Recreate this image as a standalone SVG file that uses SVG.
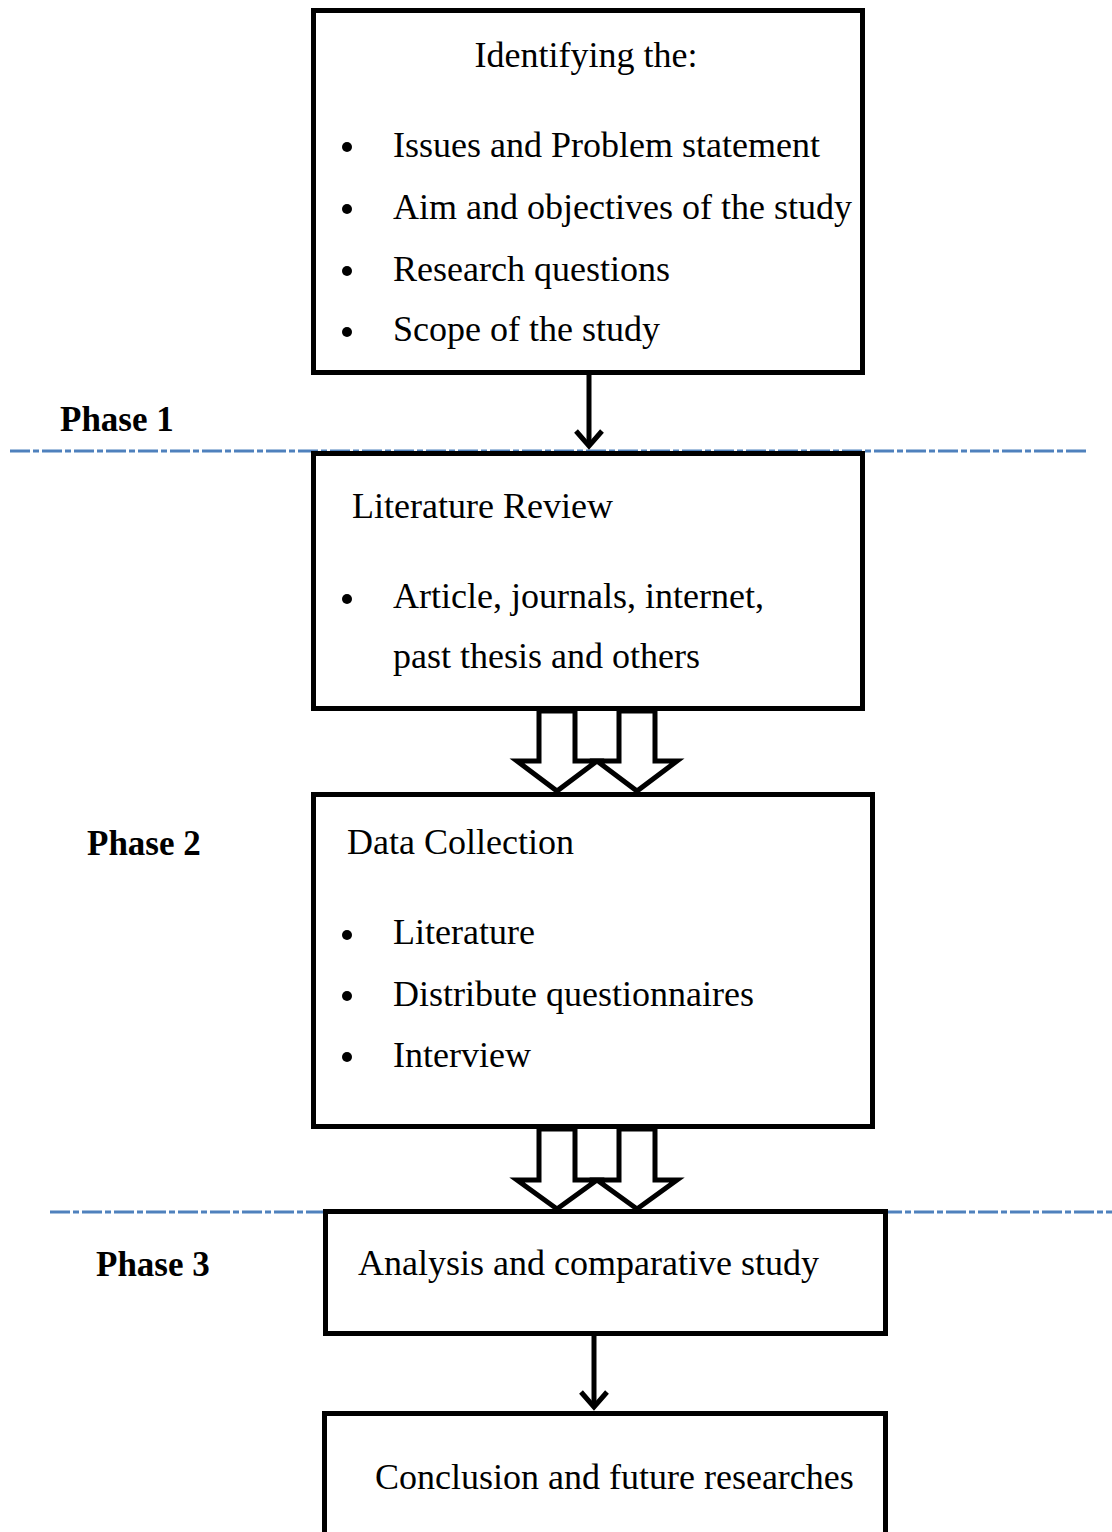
<svg xmlns="http://www.w3.org/2000/svg" width="1112" height="1532" viewBox="0 0 1112 1532">
<style>
.box{fill:#fff;stroke:#000;stroke-width:5}
.t{font-family:'Liberation Serif','DejaVu Serif',serif;font-size:36px;fill:#000}
.ph{font-family:'Liberation Serif','DejaVu Serif',serif;font-size:35px;font-weight:bold;fill:#000}
.dash{stroke:#4F81BD;stroke-width:3;stroke-dasharray:20 3 6 3;fill:none}
.ln{stroke:#000;stroke-width:5;fill:none}
.blk{fill:#fff;stroke:#000;stroke-width:5;stroke-linejoin:miter}
</style>
<rect width="1112" height="1532" fill="#fff"/>
<g id="separators">
<line class="dash" x1="10" y1="451" x2="1086" y2="451"/>
<line class="dash" x1="50" y1="1212" x2="1112" y2="1212"/>
</g>
<g id="phase-labels">
<text class="ph" x="60" y="431">Phase 1</text>
<text class="ph" x="87" y="855">Phase 2</text>
<text class="ph" x="96" y="1276">Phase 3</text>
</g>
<g id="connectors">
<line class="ln" x1="589" y1="375" x2="589" y2="446"/>
<polyline class="ln" points="576,431 589,446 602,431"/>
<polygon class="blk" points="539,711 575,711 575,761 597,761 557,791 517,761 539,761"/>
<polygon class="blk" points="619,711 655,711 655,761 677,761 637,791 597,761 619,761"/>
<polygon class="blk" points="539,1129 575,1129 575,1180 597,1180 557,1209 517,1180 539,1180"/>
<polygon class="blk" points="619,1129 655,1129 655,1180 677,1180 637,1209 597,1180 619,1180"/>
<line class="ln" x1="594" y1="1336" x2="594" y2="1407"/>
<polyline class="ln" points="581,1392 594,1407 607,1392"/>
</g>
<g id="node-identify">
<rect class="box" x="313.5" y="10.5" width="549" height="362"/>
<text class="t" x="586" y="67" text-anchor="middle">Identifying the:</text>
<circle cx="347" cy="147" r="5"/><text class="t" x="393" y="157">Issues and Problem statement</text>
<circle cx="347" cy="209" r="5"/><text class="t" x="393" y="219">Aim and objectives of the study</text>
<circle cx="347" cy="271" r="5"/><text class="t" x="393" y="281">Research questions</text>
<circle cx="347" cy="332" r="5"/><text class="t" x="393" y="341">Scope of the study</text>
</g>
<g id="node-literature">
<rect class="box" x="313.5" y="453.5" width="549" height="255"/>
<text class="t" x="352" y="518">Literature Review</text>
<circle cx="347" cy="599" r="5"/><text class="t" x="393" y="608">Article, journals, internet,</text>
<text class="t" x="393" y="668">past thesis and others</text>
</g>
<g id="node-data">
<rect class="box" x="313.5" y="794.5" width="559" height="332"/>
<text class="t" x="347" y="854">Data Collection</text>
<circle cx="347" cy="935" r="5"/><text class="t" x="393" y="944">Literature</text>
<circle cx="347" cy="996" r="5"/><text class="t" x="393" y="1006">Distribute questionnaires</text>
<circle cx="347" cy="1057" r="5"/><text class="t" x="393" y="1067">Interview</text>
</g>
<g id="node-analysis">
<rect class="box" x="325.5" y="1211.5" width="560" height="122"/>
<text class="t" x="358" y="1275">Analysis and comparative study</text>
</g>
<g id="node-conclusion">
<rect class="box" x="324.5" y="1413.5" width="561" height="140"/>
<text class="t" x="375" y="1489">Conclusion and future researches</text>
</g>
</svg>
